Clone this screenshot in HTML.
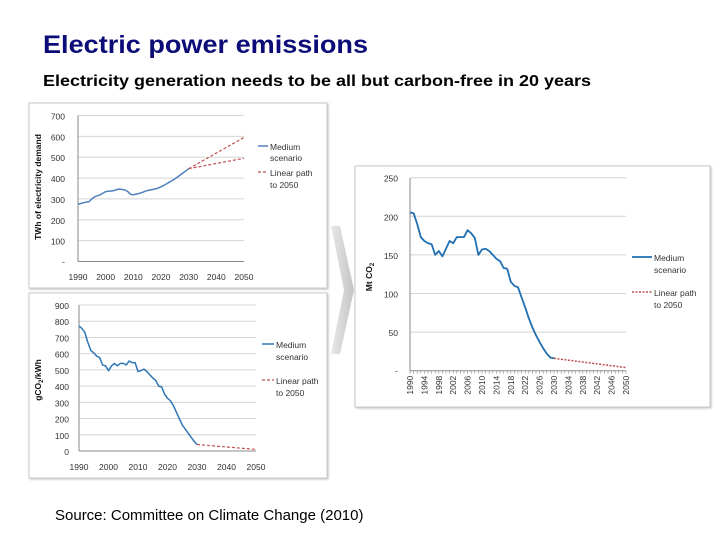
<!DOCTYPE html>
<html><head><meta charset="utf-8"><style>
body{margin:0;background:#fff;}
svg{display:block;font-family:"Liberation Sans",sans-serif;}
</style></head><body>
<svg id="root" width="720" height="540" viewBox="0 0 720 540">
<defs><filter id="sh" x="-5%" y="-5%" width="110%" height="110%"><feDropShadow dx="1" dy="1" stdDeviation="1" flood-color="#999" flood-opacity="0.6"/></filter>
<linearGradient id="ag" x1="0" x2="1"><stop offset="0" stop-color="#e8e8e8"/><stop offset="1" stop-color="#c4c4c4"/></linearGradient></defs>
<text x="43" y="53" font-size="25" font-weight="bold" fill="#0c0c78" textLength="325" lengthAdjust="spacingAndGlyphs">Electric power emissions</text>
<text x="43" y="86" font-size="16" font-weight="bold" fill="#000" textLength="548" lengthAdjust="spacingAndGlyphs">Electricity generation needs to be all but carbon-free in 20 years</text>
<path d="M331 226 L340 226 L354 290 L340 354 L331 354 L344 290 Z" fill="url(#ag)"/>
<rect x="29" y="103" width="298" height="185" fill="#fff" stroke="#c8c8c8" filter="url(#sh)"/>
<rect x="29" y="293" width="298" height="185" fill="#fff" stroke="#c8c8c8" filter="url(#sh)"/>
<rect x="355" y="166" width="355" height="241" fill="#fff" stroke="#c8c8c8" filter="url(#sh)"/>
<g id="c1"></g><g id="c2"></g><g id="c3"></g>
<text x="55" y="520" font-size="15" fill="#000">Source: Committee on Climate Change (2010)</text>
</svg>
<script>
// Chart 1: electricity demand (TWh)
const demandYears = [1990,1991,1992,1993,1994,1995,1996,1997,1998,1999,2000,2001,2002,2003,2004,2005,2006,2007,2008,2009,2010,2011,2012,2013,2014,2015,2016,2017,2018,2019,2020,2021,2022,2023,2024,2025,2026,2027,2028,2029,2030];
const demandValues = [275,278,282,285,287,300,310,315,320,328,335,337,338,340,345,347,345,343,335,322,320,323,326,330,335,340,343,345,348,352,358,365,372,380,388,396,405,415,425,435,445];
const demandLinearHigh = [[2030,445],[2050,595]];
const demandLinearLow = [[2030,445],[2050,495]];
const demandYTicks = [100,200,300,400,500,600,700];
const demandXTicks = [1990,2000,2010,2020,2030,2040,2050];
// Chart 2: carbon intensity (gCO2/kWh)
const intensityYears = demandYears;
const intensityValues = [770,755,730,670,620,605,585,575,530,525,495,525,540,525,540,540,530,555,545,545,490,495,505,490,470,450,435,400,395,350,325,310,280,240,200,160,135,110,85,60,40];
const intensityLinear = [[2030,40],[2050,10]];
const intensityYTicks = [0,100,200,300,400,500,600,700,800,900];
const intensityXTicks = [1990,2000,2010,2020,2030,2040,2050];
// Chart 3: emissions (Mt CO2)
const emissionYears = demandYears;
const emissionValues = [205,204,190,173,168,165,164,150,155,148,158,168,165,173,173,173,182,178,172,150,157,158,155,150,145,142,133,132,115,110,108,95,82,68,56,46,37,29,22,17,16];
const emissionLinear = [[2030,16],[2050,4]];
const emissionYTicks = [50,100,150,200,250];
const emissionXTicks = [1990,1994,1998,2002,2006,2010,2014,2018,2022,2026,2030,2034,2038,2042,2046,2050];

const NS='http://www.w3.org/2000/svg';
function mk(parent,tag,attrs){const e=document.createElementNS(NS,tag);for(const k in attrs)e.setAttribute(k,attrs[k]);parent.appendChild(e);return e;}
function lin(d0,d1,r0,r1){return v=>r0+(v-d0)*(r1-r0)/(d1-d0);}
function pathD(xs,ys,sx,sy){return xs.map((x,i)=>(i?'L':'M')+sx(x).toFixed(1)+' '+sy(ys[i]).toFixed(1)).join(' ');}

function drawChart(g,o){
  const sx=lin(1990,2050,o.x0,o.x1), sy=lin(0,o.ymax,o.y0,o.y1);
  o.yTicks.forEach(v=>{
    const l=mk(g,'line',{x1:o.x0,x2:o.x1,y1:sy(v),y2:sy(v),stroke:'#d4d4d4','stroke-width':1});
    
    
    const t=mk(g,'text',{x:o.lblX,y:sy(v)+4,'font-size':o.fs,'text-anchor':'end',fill:'#333'});
    t.textContent=v;
    
    
  });
  if(o.dash0){const t=mk(g,'text',{x:o.lblX,y:o.y0+3,'font-size':o.fs,'text-anchor':'end',fill:'#333'});t.textContent='-';
    
    }
  const ax=mk(g,'line',{x1:o.x0,x2:o.x0,y1:o.y0,y2:o.y1,stroke:'#888'});
  
  
  const bx=mk(g,'line',{x1:o.x0,x2:o.x1,y1:o.y0,y2:o.y0,stroke:'#888'});
  
  
  o.xTicks.forEach(v=>{
    let t;
    if(o.rot){t=mk(g,'text',{x:0,y:0,'font-size':o.fs,'text-anchor':'end',fill:'#333',transform:`translate(${sx(v)+3},${o.y0+5}) rotate(-90)`});}
    else t=mk(g,'text',{x:sx(v),y:o.xLblY,'font-size':o.fs,'text-anchor':'middle',fill:'#333'});
    t.textContent=v;
    
    
  });
  if(o.rot){for(let y=1990;y<=2050;y++){const tk=mk(g,'line',{x1:sx(y),x2:sx(y),y1:o.y0,y2:o.y0+3,stroke:'#888','stroke-width':0.6});
    
    }}
  o.linears.forEach(L=>{
    const p=mk(g,'path',{d:pathD(L.map(a=>a[0]),L.map(a=>a[1]),sx,sy),fill:'none',stroke:'#c0504d','stroke-width':o.lw-0.3,'stroke-dasharray':o.dash});
    
    
  });
  const p=mk(g,'path',{d:pathD(o.xs,o.ys,sx,sy),fill:'none',stroke:o.color,'stroke-width':o.lw,'stroke-linejoin':'round'});
  
  
  const lg=o.leg;
  const l1=mk(g,'line',{x1:lg.x,x2:lg.x+lg.w,y1:lg.y1-4,y2:lg.y1-4,stroke:o.color,'stroke-width':o.lw});
  
  
  const l2=mk(g,'line',{x1:lg.x,x2:lg.x+lg.w,y1:lg.y3-4,y2:lg.y3-4,stroke:'#c0504d','stroke-width':o.lw-0.3,'stroke-dasharray':o.dash});
  
  
  [['Medium',lg.y1,'legend-medium'],['scenario',lg.y2,'legend-medium'],['Linear path',lg.y3,'legend-linear'],['to 2050',lg.y4,'legend-linear']].forEach(a=>{
    const t=mk(g,'text',{x:lg.x+lg.w+2,y:a[1],'font-size':o.fs,fill:'#333'});t.textContent=a[0];
    
    
  });
  const tt=mk(g,'text',{x:0,y:0,'font-size':o.fs,'font-weight':'bold','text-anchor':'middle',fill:'#111',transform:`translate(${o.titleX},${o.titleY}) rotate(-90)`});
  tt.innerHTML=o.title;
  
  
}
drawChart(document.getElementById('c1'),{x0:78,x1:244,y0:261.5,y1:115.5,ymax:700,yTicks:demandYTicks,xTicks:demandXTicks,lblX:65,xLblY:280,fs:8.5,dash0:true,
  xs:demandYears,ys:demandValues,color:'#4f81bd',lw:1.5,linears:[demandLinearHigh,demandLinearLow],dash:'3,2',
  leg:{x:258,w:10,y1:150,y2:161,y3:176,y4:188},title:'TWh of electricity demand',titleX:41,titleY:187});
drawChart(document.getElementById('c2'),{x0:79,x1:256,y0:451,y1:305,ymax:900,yTicks:intensityYTicks,xTicks:intensityXTicks,lblX:69,xLblY:470,fs:8.5,
  xs:intensityYears,ys:intensityValues,color:'#2e75b6',lw:1.5,linears:[intensityLinear],dash:'3,2',
  leg:{x:262,w:12,y1:348,y2:360,y3:384,y4:396},title:'gCO<tspan font-size="6" dy="2">2</tspan><tspan dy="-2">/kWh</tspan>',titleX:41,titleY:380});
drawChart(document.getElementById('c3'),{x0:410,x1:626,y0:370.7,y1:177.7,ymax:250,yTicks:emissionYTicks,xTicks:emissionXTicks,lblX:398,fs:8.5,dash0:true,rot:true,
  xs:emissionYears,ys:emissionValues,color:'#1f6fb2',lw:1.8,linears:[emissionLinear],dash:'2,1.5',
  leg:{x:632,w:20,y1:261,y2:273,y3:296,y4:308},title:'Mt CO<tspan font-size="6" dy="2">2</tspan>',titleX:372,titleY:277});
</script>
</body></html>
